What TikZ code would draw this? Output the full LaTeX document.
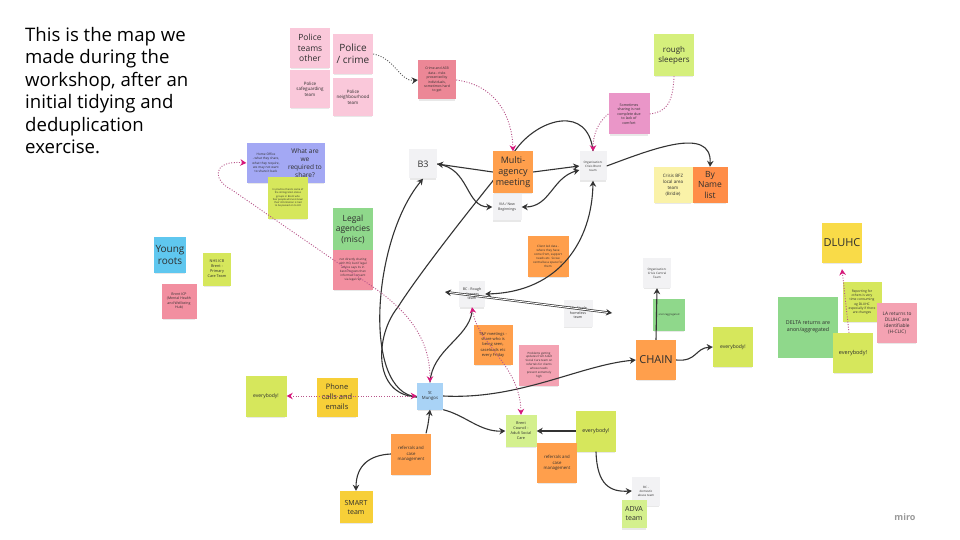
\documentclass[tikz,border=0pt]{standalone}
\usepackage{fontspec}
\setmainfont{Open Sans}
\usetikzlibrary{arrows.meta,shadows}
\newcommand\fs[2]{\fontsize{#1}{#2}\selectfont}
\definecolor{cPinkL}{HTML}{FAC8DA}
\definecolor{cSalmon}{HTML}{EC8796}
\definecolor{cLime}{HTML}{D5EF7C}
\definecolor{cMagL}{HTML}{EA96C8}
\definecolor{cLav}{HTML}{A3A8F4}
\definecolor{cYG}{HTML}{D6E75C}
\definecolor{cGreen}{HTML}{8FD88B}
\definecolor{cPinkM}{HTML}{F28FA0}
\definecolor{cPinkS}{HTML}{F4A2B2}
\definecolor{cGrey}{HTML}{F2F2F4}
\definecolor{cOrange}{HTML}{FF9F4C}
\definecolor{cOrangeD}{HTML}{FF8D47}
\definecolor{cYelL}{HTML}{FAF2A8}
\definecolor{cCyan}{HTML}{5FC7EF}
\definecolor{cBlueL}{HTML}{A9D3F6}
\definecolor{cYellow}{HTML}{F9DB48}
\definecolor{cGold}{HTML}{F7CF38}
\definecolor{cGreenL}{HTML}{D4F08E}
\definecolor{cLine}{HTML}{333333}
\definecolor{cDot}{HTML}{B8558A}
\definecolor{cMag}{HTML}{D6187B}
\definecolor{cText}{HTML}{2E2E2E}
\tikzset{
  note/.style={rectangle, inner sep=1pt, align=center, text=cText,
    drop shadow={shadow xshift=0pt, shadow yshift=-2.5pt, opacity=0.18, shadow scale=0.94}},
  sz/.style 2 args={minimum width=#1pt, minimum height=#2pt},
  conn/.style={draw=cLine, line width=1.1pt, -{Stealth[length=6pt,width=6.5pt]}},
  connb/.style={draw=cLine, line width=1.1pt, {Stealth[length=6pt,width=6.5pt]}-{Stealth[length=6pt,width=6.5pt]}},
  plain/.style={draw=cLine, line width=1.1pt},
  dotd/.style={draw=cLine!80, line width=0.9pt, dash pattern=on 1pt off 1.6pt, -{Stealth[length=6pt,width=6.5pt,color=cLine]}},
  dotp/.style={draw=cDot, line width=0.9pt, dash pattern=on 1pt off 1.6pt},
  dotm/.style={draw=cDot, line width=0.9pt, dash pattern=on 1pt off 1.6pt, -{Stealth[length=6pt,width=6.5pt,color=cMag]}},
  dotmb/.style={draw=cDot, line width=0.9pt, dash pattern=on 1pt off 1.6pt, {Stealth[length=6pt,width=6.5pt,color=cMag]}-{Stealth[length=6pt,width=6.5pt,color=cMag]}},
}
\begin{document}
\begin{tikzpicture}[x=1pt,y=-1pt]
\useasboundingbox (0,0) rectangle (960,540);
\fill[white] (0,0) rectangle (960,540);

\node[anchor=north west, inner sep=0pt, align=left, font=\fs{18.6}{22.5}, text=black] (intro) at (25,27)
  {This is the map we\\made during the\\workshop, after an\\initial tidying and\\deduplication\\exercise.};

% coordinates for the long connector that runs behind the notes
\coordinate (lgA) at (398,307);
\coordinate (lgB) at (492,182);
\coordinate (lgC) at (517,148);
\coordinate (stmW) at (417,397);
\coordinate (cbN) at (593,151);
\draw[plain] (stmW) .. controls (372,395) and (375,335) .. (lgA) .. controls (415,280) and (455,228) .. (lgB) -- (lgC) .. controls (540,118) and (588,105) .. (cbN);

% police cluster
\node[note, fill=cPinkL, sz={40}{40}, font=\fs{8.5}{10.5}] (pto) at (310,48) {Police\\teams\\other};
\node[note, fill=cPinkL, sz={40}{38}, font=\fs{4.5}{5.6}] (psg) at (310,89) {Police\\safeguarding\\team};
\node[note, fill=cPinkL, sz={40}{40}, font=\fs{10}{12.5}] (pc) at (353,54) {Police\\/ crime};
\node[note, fill=cPinkL, sz={40}{38}, font=\fs{4.5}{5.6}] (pnb) at (353,97) {Police\\neighbourhood\\team};
\node[note, fill=cSalmon, sz={38}{39}, font=\fs{3.4}{4.4}] (asb) at (437,80) {Crime and ASB\\data - risks\\presented by\\individuals,\\sometimes hard\\to get};

\node[note, fill=cLime, sz={40}{42}, font=\fs{8}{10}] (rs) at (674,55) {rough\\sleepers};
\node[note, fill=cMagL, sz={41}{41}, font=\fs{3.6}{4.6}] (some) at (629,114) {Sometimes\\sharing is not\\complete due\\to lack of\\comfort};

% home office cluster
\node[note, fill=cLav, sz={39}{40}, font=\fs{3.2}{4.3}] (ho1) at (266,163) {Home Office\\- what they share,\\what they require,\\we may not want\\to share it back};
\node[note, fill=cLav, sz={40}{40}, font=\fs{6.5}{8}] (ho2) at (305,163) {What are\\we\\required to\\share?};
\node[note, fill=cYG, sz={40}{41}, font=\fs{2.5}{3.3}] (hoy) at (288,198) {In practice there's some of\\the immigration status\\groups in Brent who\\fear people who've known\\their information is tied\\to be passed on to HO};
\node[note, fill=cGreen, sz={40}{42}, font=\fs{8.5}{10.5}] (leg) at (353,229) {Legal\\agencies\\(misc)};
\node[note, fill=cPinkM, sz={40}{40}, font=\fs{3}{4}] (legp) at (353,270) {not directly sharing\\with HO, but if legal\\advice says its in\\best interests then\\informed consent\\via legal rep};

% centre top
\node[note, fill=cGrey, sz={28}{29}, font=\fs{9}{10}] (b3) at (423,164) {B3};
\node[note, fill=cOrange, sz={40}{41}, font=\fs{9}{11}] (ma) at (513,172) {Multi-\\agency\\meeting};
\node[note, fill=cGrey, sz={29}{26}, font=\fs{3.5}{4.5}] (via) at (507,207) {VIA / New\\Beginnings};
\node[note, fill=cGrey, sz={27}{29}, font=\fs{3}{4}] (cb) at (593,166) {Organisation:\\Crisis Brent\\team};
\node[note, fill=cYelL, sz={39}{36}, font=\fs{4.5}{6}] (bfz) at (673,185) {Crisis BFZ\\local area\\team\\(Bridie)};
\node[note, fill=cOrangeD, sz={35}{36}, font=\fs{8.5}{10.5}] (bnl) at (710,185) {By\\Name\\list};

% left cluster
\node[note, fill=cCyan, sz={32}{36}, font=\fs{10}{12}] (yr) at (170,255) {Young\\roots};
\node[note, fill=cYG, sz={28}{33}, font=\fs{3.8}{5}] (nhs) at (217,269) {NHS ICB\\Brent -\\Primary\\Care Team};
\node[note, fill=cPinkM, sz={35}{35}, font=\fs{3.5}{4.5}] (icp) at (179,301) {Brent ICP\\(Mental Health\\and Wellbeing\\Hub)};

% middle
\node[note, fill=cOrange, sz={41}{41}, font=\fs{3}{4}] (cl) at (548,256) {Client led data -\\where they have\\come from, support\\needs etc. So we\\centralise a space for\\them};
\node[note, fill=cGrey, sz={26}{26}, font=\fs{3.6}{4.6}] (bcr) at (472,294) {BC - Rough\\sleepers\\team};
\node[note, fill=cGrey, sz={29}{27}, font=\fs{3.6}{4.6}] (bcs) at (578,313) {BC - Single\\homeless\\team};
\node[note, fill=cGrey, sz={28}{30}, font=\fs{3}{4}] (ccc) at (657,273) {Organisation:\\Crisis Central\\Team};
\node[note, fill=cGreen, sz={32}{32}, font=\fs{2.6}{3.4}] (anon) at (669,315) {anon/aggregated};
\node[note, fill=cOrange, sz={40}{40}, font=\fs{11}{13}] (chain) at (656,360) {CHAIN};
\node[note, fill=cYG, sz={40}{40}, font=\fs{5}{6}] (ev1) at (733,347) {everybody!};

% DLUHC cluster
\node[note, fill=cYellow, sz={40}{40}, font=\fs{11}{13}] (dl) at (842,243) {DLUHC};
\node[note, fill=cYG, sz={39}{40}, font=\fs{3.3}{4.3}] (rep) at (862,302) {Reporting for\\others is very\\time consuming\\eg DLUHC\\especially if there\\are changes};
\node[note, fill=cGreen, sz={60}{61}, font=\fs{5.3}{7}] (delta) at (808,327) {DELTA returns are\\anon/aggregated};
\node[note, fill=cYG, sz={40}{40}, font=\fs{5.5}{6.5}] (ev2) at (853,353) {everybody!};
\node[note, fill=cPinkS, sz={40}{40}, font=\fs{4.8}{6}] (la) at (897,323) {LA returns to\\DLUHC are\\identifiable\\(H-CLIC)};

% lower middle
\node[note, fill=cOrange, sz={39}{40}, font=\fs{4}{5.2}] (tf) at (493,345) {T\&F meetings -\\share who is\\being seen,\\caseloads etc\\every Friday};
\node[note, fill=cPinkS, sz={40}{41}, font=\fs{2.9}{3.9}] (prob) at (539,365) {Problems getting\\updates from Adult\\Social Care team on\\referrals for clients\\whose needs\\present extremely\\high};
\node[note, fill=cGreenL, sz={31}{32}, font=\fs{3.8}{4.9}] (asc) at (521,431) {Brent\\Council -\\Adult Social\\Care};
\node[note, fill=cYG, sz={40}{41}, font=\fs{5.3}{6.5}] (ev3) at (596,431) {everybody!};
\node[note, fill=cOrange, sz={40}{40}, font=\fs{4.3}{5.5}] (ref2) at (557,463) {referrals and\\case\\management};
\node[note, fill=cGrey, sz={28}{29}, font=\fs{3}{4}] (bcd) at (646,491) {BC -\\domestic\\abuse team};
\node[note, fill=cGreenL, sz={25}{28}, font=\fs{7}{9}] (adva) at (634,514) {ADVA\\team};

% lower left
\node[note, fill=cYG, sz={41}{41}, font=\fs{5}{6}] (ev0) at (266,396) {everybody!};
\node[note, fill=cGold, sz={41}{39}, font=\fs{7.5}{10}] (phone) at (337,397) {Phone\\calls and\\emails};
\node[note, fill=cBlueL, sz={26}{27}, font=\fs{4.3}{5.5}] (stm) at (430,396) {St\\Mungos};
\node[note, fill=cOrange, sz={40}{41}, font=\fs{4.3}{5.5}] (ref1) at (411,454) {referrals and\\case\\management};
\node[note, fill=cGold, sz={33}{32}, font=\fs{7}{9}] (smart) at (356,507) {SMART\\team};

\node[font=\fs{9}{10}\bfseries, text=black!40] (miro) at (905,517) {miro};

% named free ends
\coordinate (hoL) at (232,190);
\coordinate (hoM) at (373,287);
\coordinate (dlL) at (445,292);
\coordinate (dlR) at (612,313);

% solid connectors
\draw[conn] (ma.west) -- (b3.east);
\draw[conn] (b3.east) .. controls (470,168) and (465,207) .. (via.west);
\draw[conn] (ma.east) -- (cb.west);
\draw[connb] (via.east) .. controls (550,207) and (552,178) .. ([yshift=-4pt]cb.west);
\draw[conn] ([yshift=-1pt]stm.west) .. controls (362,392) and (372,240) .. (b3.south);
\draw[conn] (cb.east) .. controls (650,150) and (712,125) .. (bnl.north);
\draw[connb] (cb.south) .. controls (592,240) and (560,292) .. (bcr.east);
\draw[connb, line width=0.7pt, double=white, double distance=0.9pt] (dlL) -- (dlR);
\draw[plain] (stm.north) .. controls (432,350) and (468,338) .. ([yshift=-5pt]bcr.south);
\draw[conn] (stm.east) .. controls (520,400) and (580,365) .. (chain.west);
\draw[conn] (chain.east) .. controls (697,362) and (695,348) .. (ev1.west);
\draw[conn] (chain.north) -- (ccc.south);
\draw[conn] (stm.south east) .. controls (465,415) and (480,432) .. (asc.west);
\draw[conn] (ev3.west) -- (asc.east);
\draw[conn] (ev3.south) .. controls (597,485) and (610,492) .. (bcd.west);
\draw[conn] ([xshift=15pt]ref1.north) .. controls (428,425) .. (stm.south);
\draw[conn] (ref1.west) .. controls (370,455) and (356,465) .. (smart.north);

% dotted connectors
\draw[dotd] (pc.east) .. controls (395,58) and (400,82) .. (asb.west);
\draw[dotm] (asb.east) .. controls (495,85) and (512,115) .. (ma.north);
\draw[dotp] (rs.south) .. controls (673,105) and (665,112) .. (some.east);
\draw[dotm] (some.west) .. controls (598,122) and (593,135) .. (cb.north);
\draw[dotmb] (ho1.west) .. controls (212,160) and (212,180) .. (hoL) -- (hoM) .. controls (415,316) and (430,345) .. (stm.north);
\draw[dotmb] (ev0.east) -- (stm.west);
\draw[dotmb] (bcr.south) .. controls (478,345) and (520,365) .. (asc.north);
\draw[dotm] ([xshift=-4pt]ev2.north) -- ([yshift=-6pt]dl.south);
\end{tikzpicture}
\end{document}
